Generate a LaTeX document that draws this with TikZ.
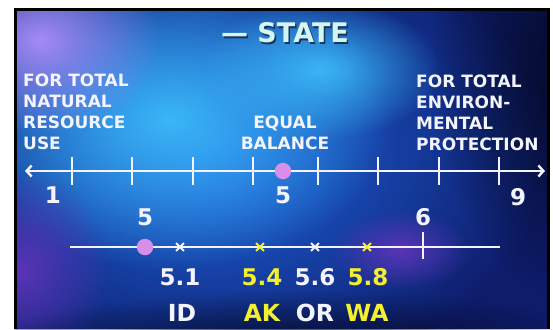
\documentclass[tikz,border=0pt]{standalone}
\usepackage{fontspec}
\setmainfont{DejaVu Sans}
\usetikzlibrary{arrows.meta,positioning,calc,fadings,shapes.misc}
\definecolor{navy}{HTML}{0E1C6A}
\definecolor{deepnight}{HTML}{040822}
\definecolor{glowcyan}{HTML}{3AB6F6}
\definecolor{midblue}{HTML}{1F68E4}
\definecolor{haze}{HTML}{A68AF6}
\definecolor{grape}{HTML}{5A34B8}
\definecolor{orchid}{HTML}{D98EEA}
\definecolor{chalk}{HTML}{F4F4FF}
\definecolor{mint}{HTML}{D4F6F0}
\definecolor{shadowink}{HTML}{17345E}
\definecolor{lemon}{HTML}{F4F02E}
\tikzfading[name=softglow, inner color=transparent!0, outer color=transparent!100]
\tikzset{
  glow/.style={fill=#1, path fading=softglow},
  caption/.style={font=\bfseries\fontsize{17}{21}\selectfont, text=chalk, inner sep=0pt},
  numlabel/.style={font=\bfseries\fontsize{23}{26}\selectfont, text=#1, inner sep=0pt},
  numlabel/.default=chalk,
  statecode/.style={font=\bfseries\fontsize{23.5}{27}\selectfont, text=#1, inner sep=0pt},
  statecode/.default=chalk,
  axisline/.style={draw=chalk, line width=2.4pt},
  axistick/.style={draw=chalk, line width=1.8pt},
  marker/.style={circle, fill=orchid, minimum size=16.5pt, inner sep=0pt},
  xmark/.style={cross out, draw=#1, line width=1.8pt, minimum size=6pt, inner sep=0pt}
}
\begin{document}
\begin{tikzpicture}[x=1pt, y=-1pt]
  \useasboundingbox[fill=white] (0,0) rectangle (553,329);
  % backdrop
  \begin{scope}
    \clip (15,9) rectangle (549,329);
    \fill[navy] (15,9) rectangle (549,329);
    \fill[glow=midblue] (210,150) ellipse [x radius=340pt, y radius=240pt];
    \fill[glow=glowcyan] (170,120) ellipse [x radius=220pt, y radius=150pt];
    \fill[glow=glowcyan] (320,70) ellipse [x radius=120pt, y radius=70pt];
    \fill[glow=haze] (40,40) ellipse [x radius=120pt, y radius=95pt];
    \fill[glow=grape] (20,270) ellipse [x radius=90pt, y radius=100pt];
    \fill[glow=grape] (400,250) ellipse [x radius=70pt, y radius=40pt];
    \fill[glow=deepnight] (580,70) ellipse [x radius=150pt, y radius=230pt];
    \fill[glow=deepnight] (300,355) ellipse [x radius=330pt, y radius=65pt];
  \end{scope}
  \draw[black, line width=3pt] (15.5,329) -- (15.5,9.5) -- (548.5,9.5) -- (548.5,329);

  \node[font=\bfseries\fontsize{27}{30}\selectfont, text=shadowink] at (286.5,34.5) {— STATE};
  \node[font=\bfseries\fontsize{27}{30}\selectfont, text=mint] (heading) at (285,33) {— STATE};

  \node[caption, align=left, anchor=north west] (resourcecap) at (23,74)
    {FOR TOTAL\\NATURAL\\RESOURCE\\USE};
  \node[caption, align=center, anchor=north] (balancecap) at (285,116)
    {EQUAL\\BALANCE};
  \node[caption, align=left, anchor=north west] (protectcap) at (416,75)
    {FOR TOTAL\\ENVIRON-\\MENTAL\\PROTECTION};

  % the 1 to 9 scale
  \coordinate (topwest) at (25,171);
  \coordinate (topeast) at (545,171);
  \draw[axisline, {Straight Barb[length=5pt,width=11pt]}-{Straight Barb[length=5pt,width=11pt]}]
    (topwest) -- (topeast);
  \foreach \tx in {72,132,193,253,318,378,439,499}
    \draw[axistick] (\tx,157) -- (\tx,185);
  \node[marker] (balance) at (283,171) {};
  \node[numlabel] (one) at (53,195) {1};
  \node[numlabel] (five) at (283,195) {5};
  \node[numlabel] (nine) at (518,197) {9};

  % the 5 to 6 detail
  \coordinate (lowwest) at (70,247);
  \coordinate (loweast) at (500,247);
  \draw[axisline, line width=2.8pt] (lowwest) -- (loweast);
  \draw[axistick] (423,232) -- (423,259);
  \node[marker] (lowfive) at (145,247) {};
  \node[numlabel] (fivemark) at (145,217) {5};
  \node[numlabel] (sixmark) at (423,217) {6};

  \node[xmark=chalk] (idmark) at (180,247) {};
  \node[xmark=lemon] (akmark) at (260,247) {};
  \node[xmark=chalk] (ormark) at (315,247) {};
  \node[xmark=lemon] (wamark) at (367,247) {};

  \node[numlabel] (idval) at (180,277) {5.1};
  \node[numlabel=lemon] (akval) at (262,277) {5.4};
  \node[numlabel] (orval) at (315,277) {5.6};
  \node[numlabel=lemon] (waval) at (368,277) {5.8};

  \node[statecode] (idname) at (182,313) {ID};
  \node[statecode=lemon] (akname) at (262,313) {AK};
  \node[statecode] (orname) at (315,313) {OR};
  \node[statecode=lemon] (waname) at (367,313) {WA};
\end{tikzpicture}
\end{document}
